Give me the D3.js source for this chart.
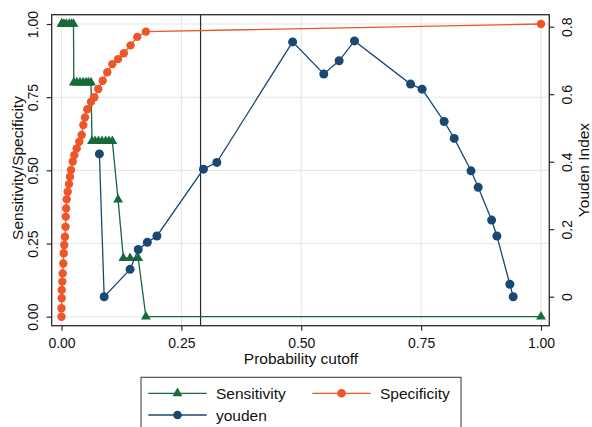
<!DOCTYPE html>
<html>
<head>
<meta charset="utf-8">
<script src="https://cdn.jsdelivr.net/npm/d3@7"></script>
<style>
  html, body { margin: 0; padding: 0; background: #fff; }
  svg { display: block; font-family: "Liberation Sans", Arial, Helvetica, sans-serif; }
</style>
</head>
<body>
<svg id="chart" width="592" height="427"></svg>
<script>
// Cutoff grid and classification rates
const sensCut = [0, 0.001, 0.005, 0.010, 0.016, 0.021, 0.025,
                 0.0257, 0.032, 0.0386, 0.045, 0.051, 0.056, 0.0615,
                 0.0636, 0.070, 0.077, 0.0845, 0.092, 0.099, 0.106,
                 0.118, 0.129, 0.143, 0.160, 0.176, 1.0];
const sensVal = [1, 1, 1, 1, 1, 1, 1,
                 0.8, 0.8, 0.8, 0.8, 0.8, 0.8, 0.8,
                 0.6, 0.6, 0.6, 0.6, 0.6, 0.6, 0.6,
                 0.4, 0.2, 0.2, 0.2, 0, 0];

const specCut = [0, 0, 0.0004, 0.0004, 0.0017, 0.0025, 0.0038, 0.0046, 0.0058, 0.0073,
                 0.0085, 0.0090, 0.0097, 0.0108, 0.0129, 0.0156, 0.0177, 0.0198, 0.0234, 0.0267,
                 0.0317, 0.0371, 0.0421, 0.0455, 0.0490, 0.0538, 0.0615, 0.0684, 0.0767, 0.0859,
                 0.0955, 0.106, 0.118, 0.130, 0.144, 0.158, 0.176, 1.0];
const specVal = [0, 0.029, 0.063, 0.091, 0.120, 0.148, 0.182, 0.217, 0.245, 0.273,
                 0.307, 0.342, 0.370, 0.401, 0.427, 0.453, 0.478, 0.501, 0.530, 0.552,
                 0.575, 0.598, 0.621, 0.655, 0.681, 0.709, 0.734, 0.750, 0.778, 0.806,
                 0.835, 0.863, 0.880, 0.900, 0.927, 0.956, 0.974, 1.0];

const youdenCut = [0.079, 0.089, 0.143, 0.160, 0.179, 0.199, 0.296, 0.324, 0.482, 0.547, 0.579,
                   0.611, 0.728, 0.752, 0.798, 0.819, 0.854, 0.869, 0.897, 0.908, 0.935, 0.942];
const youdenVal = [0.423, 0, 0.081, 0.140, 0.161, 0.180, 0.378, 0.398, 0.755, 0.660, 0.699,
                   0.758, 0.630, 0.615, 0.519, 0.469, 0.373, 0.324, 0.227, 0.180, 0.037, 0];

const optimalCutoff = 0.29;

const xTicks = [0, 0.25, 0.5, 0.75, 1];
const yLeftTicks = [0, 0.25, 0.5, 0.75, 1];
const yRightTicks = [0, 0.2, 0.4, 0.6, 0.8];

const legendLabels = ["Sensitivity", "Specificity", "youden"];

// Styling
const GREEN = "#15693a", ORANGE = "#ee5528", NAVY = "#1a4874";
const GRID = "#e6e6e6", FRAME = "#2a2a2a";

const svg = d3.select("#chart");
const box = { left: 51.7, right: 549.3, top: 14.7, bottom: 325.7 };

const x = d3.scaleLinear().domain([0, 1]).range([61.5, 541]);
const yL = d3.scaleLinear().domain([0, 1]).range([316.7, 24]);
const yR = d3.scaleLinear().domain([0, 0.8]).range([296.7, 26.7]);

// Grid lines
const grid = svg.append("g");
grid.selectAll("line.gx").data(xTicks).join("line")
  .attr("x1", d => x(d)).attr("x2", d => x(d))
  .attr("y1", box.top).attr("y2", box.bottom)
  .attr("stroke", GRID).attr("stroke-width", 1.1);
grid.selectAll("line.gy").data(yLeftTicks).join("line")
  .attr("x1", box.left).attr("x2", box.right)
  .attr("y1", d => yL(d)).attr("y2", d => yL(d))
  .attr("stroke", GRID).attr("stroke-width", 1.1);

// Chosen cutoff
svg.append("line")
  .attr("x1", x(optimalCutoff)).attr("x2", x(optimalCutoff))
  .attr("y1", box.top).attr("y2", box.bottom)
  .attr("stroke", FRAME).attr("stroke-width", 1.2);

const triangle = d3.symbol().type(d3.symbolTriangle).size(42);

function drawSeries(cuts, vals, yScale, color, marker) {
  const pts = cuts.map((c, i) => [c, vals[i]]);
  const line = d3.line().x(d => x(d[0])).y(d => yScale(d[1]));
  const g = svg.append("g");
  g.append("path").datum(pts).attr("d", line)
    .attr("fill", "none").attr("stroke", color).attr("stroke-width", 1.3);
  if (marker === "triangle") {
    g.selectAll("path.m").data(pts).join("path")
      .attr("d", triangle)
      .attr("transform", d => `translate(${x(d[0])},${yScale(d[1])})`)
      .attr("fill", color);
  } else {
    g.selectAll("circle").data(pts).join("circle")
      .attr("cx", d => x(d[0])).attr("cy", d => yScale(d[1]))
      .attr("r", marker).attr("fill", color);
  }
}

drawSeries(sensCut, sensVal, yL, GREEN, "triangle");
drawSeries(specCut, specVal, yL, ORANGE, 4.2);
drawSeries(youdenCut, youdenVal, yR, NAVY, 4.5);

// Frame
svg.append("rect")
  .attr("x", box.left).attr("y", box.top)
  .attr("width", box.right - box.left).attr("height", box.bottom - box.top)
  .attr("fill", "none").attr("stroke", FRAME).attr("stroke-width", 1.3);

// Axes
const fmt2 = d3.format(".2f");
const xAxis = svg.append("g").attr("transform", `translate(0,${box.bottom})`)
  .call(d3.axisBottom(x).tickValues(xTicks).tickFormat(fmt2).tickSize(5).tickPadding(6));
xAxis.selectAll("text").attr("font-size", 14).attr("fill", "#111").attr("dy", null).attr("y", 22);

const yAxisL = svg.append("g").attr("transform", `translate(${box.left},0)`)
  .call(d3.axisLeft(yL).tickValues(yLeftTicks).tickFormat(fmt2).tickSize(5));
yAxisL.selectAll("text")
  .attr("transform", "rotate(-90)")
  .attr("x", 0).attr("y", -18.7).attr("dy", null)
  .attr("text-anchor", "middle").attr("dominant-baseline", "central")
  .attr("font-size", 14).attr("fill", "#111");

const yAxisR = svg.append("g").attr("transform", `translate(${box.right},0)`)
  .call(d3.axisRight(yR).tickValues(yRightTicks).tickFormat(d3.format("")).tickSize(5));
yAxisR.selectAll("text")
  .attr("transform", "rotate(-90)")
  .attr("x", 0).attr("y", 17.6).attr("dy", null)
  .attr("text-anchor", "middle").attr("dominant-baseline", "central")
  .attr("font-size", 14).attr("fill", "#111");

[xAxis, yAxisL, yAxisR].forEach(a => {
  a.select(".domain").remove();
  a.selectAll(".tick line").attr("stroke", FRAME).attr("stroke-width", 1.2);
});

// Axis titles
svg.append("text").attr("x", 301).attr("y", 364)
  .attr("text-anchor", "middle").attr("font-size", 15.5).attr("fill", "#111")
  .text("Probability cutoff");
svg.append("text")
  .attr("transform", "translate(17,168) rotate(-90)")
  .attr("text-anchor", "middle").attr("dominant-baseline", "central")
  .attr("font-size", 15.5).attr("fill", "#111")
  .text("Sensitivity/Specificity");
svg.append("text")
  .attr("transform", "translate(583.5,170) rotate(-90)")
  .attr("text-anchor", "middle").attr("dominant-baseline", "central")
  .attr("font-size", 15.5).attr("fill", "#111")
  .text("Youden Index");

// Legend
const lg = svg.append("g");
lg.append("rect").attr("x", 141).attr("y", 377.3).attr("width", 320).attr("height", 52)
  .attr("fill", "#fff").attr("stroke", "#444").attr("stroke-width", 1.1);

const legendItems = [
  { label: legendLabels[0], color: GREEN, marker: "triangle", kx: 148.3, ky: 393.3 },
  { label: legendLabels[1], color: ORANGE, marker: "circle", kx: 312.3, ky: 393.3 },
  { label: legendLabels[2], color: NAVY, marker: "circle", kx: 148.3, ky: 415 }
];
legendItems.forEach(it => {
  lg.append("line").attr("x1", it.kx).attr("x2", it.kx + 58.4)
    .attr("y1", it.ky).attr("y2", it.ky)
    .attr("stroke", it.color).attr("stroke-width", 1.3);
  if (it.marker === "triangle") {
    lg.append("path").attr("d", triangle)
      .attr("transform", `translate(${it.kx + 29.2},${it.ky})`).attr("fill", it.color);
  } else {
    lg.append("circle").attr("cx", it.kx + 29.2).attr("cy", it.ky).attr("r", 4.3).attr("fill", it.color);
  }
  lg.append("text").attr("x", it.kx + 67.7).attr("y", it.ky + 5.5)
    .attr("font-size", 15.5).attr("fill", "#111").text(it.label);
});
</script>
</body>
</html>
